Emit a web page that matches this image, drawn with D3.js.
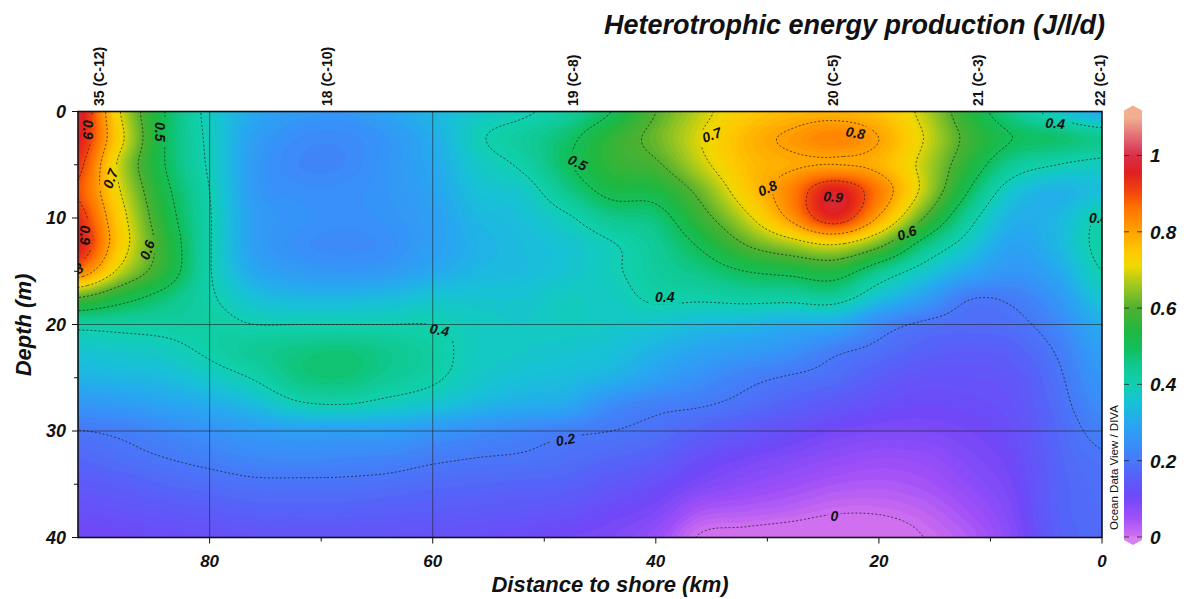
<!DOCTYPE html>
<html>
<head>
<meta charset="utf-8">
<script src="https://cdn.jsdelivr.net/npm/d3@7"></script>
<style>
  body { margin: 0; background: #fff; }
  svg text { font-family: "Liberation Sans", Arial, sans-serif; }
</style>
</head>
<body>
<svg id="chart" width="1199" height="599"></svg>
<script>
// Section grid: distance to shore (km) and depth (m)
const distances = [92, 88, 84, 80, 76, 72, 68, 64, 60, 56, 52, 48, 44, 40, 36, 32, 28, 24, 20, 16, 12, 8, 4, 0];
const depths = [0, 2.5, 5, 7.5, 10, 12.5, 15, 17.5, 20, 22.5, 25, 27.5, 30, 32.5, 35, 37.5, 40];

// Heterotrophic energy production (J/l/d), one gridded profile per distance
const profiles = [
  [0.99, 0.97, 0.93, 0.90, 0.94, 0.97, 0.86, 0.60, 0.42, 0.36, 0.32, 0.26, 0.198, 0.17, 0.145, 0.12, 0.10],
  [0.70, 0.72, 0.68, 0.70, 0.73, 0.74, 0.68, 0.53, 0.42, 0.37, 0.33, 0.27, 0.21, 0.185, 0.155, 0.13, 0.105],
  [0.50, 0.50, 0.50, 0.52, 0.54, 0.56, 0.55, 0.47, 0.42, 0.38, 0.34, 0.29, 0.23, 0.20, 0.17, 0.14, 0.115],
  [0.38, 0.385, 0.39, 0.40, 0.405, 0.405, 0.405, 0.41, 0.42, 0.41, 0.37, 0.31, 0.25, 0.215, 0.18, 0.15, 0.12],
  [0.30, 0.28, 0.27, 0.27, 0.28, 0.28, 0.30, 0.35, 0.40, 0.44, 0.405, 0.34, 0.27, 0.23, 0.19, 0.16, 0.13],
  [0.27, 0.24, 0.23, 0.245, 0.255, 0.245, 0.27, 0.33, 0.40, 0.46, 0.46, 0.39, 0.28, 0.235, 0.19, 0.16, 0.13],
  [0.26, 0.235, 0.23, 0.245, 0.245, 0.235, 0.26, 0.33, 0.40, 0.47, 0.47, 0.40, 0.28, 0.23, 0.19, 0.16, 0.13],
  [0.29, 0.26, 0.26, 0.26, 0.255, 0.245, 0.27, 0.34, 0.40, 0.45, 0.44, 0.38, 0.28, 0.225, 0.185, 0.155, 0.13],
  [0.33, 0.31, 0.30, 0.29, 0.28, 0.28, 0.30, 0.36, 0.40, 0.42, 0.41, 0.36, 0.26, 0.21, 0.175, 0.15, 0.125],
  [0.37, 0.39, 0.37, 0.35, 0.33, 0.32, 0.33, 0.36, 0.38, 0.38, 0.37, 0.33, 0.24, 0.20, 0.17, 0.145, 0.12],
  [0.39, 0.43, 0.41, 0.37, 0.35, 0.34, 0.34, 0.36, 0.37, 0.37, 0.35, 0.31, 0.225, 0.195, 0.165, 0.14, 0.11],
  [0.43, 0.48, 0.49, 0.45, 0.39, 0.36, 0.36, 0.38, 0.38, 0.36, 0.34, 0.30, 0.21, 0.185, 0.16, 0.13, 0.10],
  [0.50, 0.56, 0.56, 0.52, 0.45, 0.395, 0.39, 0.38, 0.37, 0.35, 0.32, 0.24, 0.20, 0.17, 0.14, 0.11, 0.09],
  [0.60, 0.62, 0.59, 0.53, 0.47, 0.44, 0.43, 0.41, 0.36, 0.32, 0.28, 0.215, 0.185, 0.155, 0.12, 0.09, 0.06],
  [0.68, 0.70, 0.68, 0.62, 0.57, 0.51, 0.46, 0.41, 0.34, 0.29, 0.245, 0.205, 0.16, 0.12, 0.09, 0.04, -0.005],
  [0.74, 0.77, 0.76, 0.74, 0.68, 0.60, 0.50, 0.42, 0.33, 0.27, 0.215, 0.185, 0.14, 0.10, 0.07, 0.03, -0.015],
  [0.77, 0.81, 0.79, 0.84, 0.81, 0.66, 0.52, 0.42, 0.31, 0.25, 0.195, 0.16, 0.12, 0.085, 0.055, 0.02, -0.025],
  [0.78, 0.84, 0.80, 0.96, 0.94, 0.70, 0.54, 0.43, 0.30, 0.21, 0.18, 0.14, 0.10, 0.07, 0.04, 0.005, -0.035],
  [0.76, 0.80, 0.78, 0.85, 0.79, 0.62, 0.45, 0.35, 0.23, 0.185, 0.15, 0.12, 0.09, 0.06, 0.035, 0.005, -0.03],
  [0.68, 0.70, 0.68, 0.68, 0.60, 0.47, 0.37, 0.28, 0.19, 0.16, 0.13, 0.11, 0.09, 0.065, 0.045, 0.02, 0.0],
  [0.55, 0.58, 0.55, 0.50, 0.43, 0.37, 0.30, 0.205, 0.18, 0.15, 0.13, 0.115, 0.10, 0.085, 0.07, 0.05, 0.03],
  [0.45, 0.50, 0.44, 0.36, 0.32, 0.29, 0.26, 0.21, 0.185, 0.16, 0.14, 0.13, 0.12, 0.11, 0.10, 0.09, 0.08],
  [0.37, 0.48, 0.40, 0.32, 0.33, 0.33, 0.30, 0.26, 0.23, 0.205, 0.19, 0.18, 0.17, 0.165, 0.16, 0.16, 0.155],
  [0.30, 0.45, 0.38, 0.35, 0.41, 0.42, 0.40, 0.36, 0.31, 0.28, 0.26, 0.24, 0.215, 0.195, 0.185, 0.18, 0.175]
];

// Stations along the section
const stationNames = ["35 (C-12)", "18 (C-10)", "19 (C-8)", "20 (C-5)", "21 (C-3)", "22 (C-1)"];
const stationKm = [89.9, 69.5, 47.4, 24.1, 11.1, 0.2];

// Isoline levels and their labels
const contourLevels = [0, 0.2, 0.4, 0.5, 0.6, 0.7, 0.8, 0.9];
const labelText = ["0.9", "0.7", "0.5", "0.9", "0.6", "0.8", "0.4", "0.5", "0.7", "0.8", "0.8", "0.9", "0.6", "0.4", "0.4", "0.4", "0.2", "0"];
const labelKm = [90.9, 88.9, 84.4, 91.2, 85.6, 92.2, 59.4, 47.0, 35.0, 22.1, 30.0, 24.1, 17.5, 39.2, 4.2, 0.3, 48.1, 24.0];
const labelDepth = [1.7, 6.3, 1.9, 11.6, 13.0, 15.0, 20.5, 4.8, 2.2, 2.0, 7.2, 8.0, 11.4, 17.4, 1.1, 10.0, 30.8, 38.0];
const labelAngle = [90, -70, 90, 90, -70, -30, 10, 25, -20, 10, -25, 5, -20, 0, 5, 0, -10, 0];

// Colour bar palette
const paletteValues = [0, 0.05, 0.105, 0.157, 0.2, 0.245, 0.3, 0.35, 0.4, 0.45, 0.49, 0.54, 0.6, 0.66, 0.71, 0.75, 0.805, 0.866, 0.91, 0.955, 1.0, 1.04, 1.1];
const paletteColors = ["#d070f0", "#a050f8", "#7048f8", "#5860f8", "#4878f8", "#3890f8", "#28a8f0", "#18c0d8", "#10d0b0", "#10c890", "#10c060", "#20b840", "#50b030", "#a0c820", "#f0d800", "#ffc800", "#ffa000", "#ff7000", "#f04010", "#e02020", "#d83048", "#e06070", "#f0b090"];
const colorTicks = [0, 0.2, 0.4, 0.6, 0.8, 1];

const xTicks = [80, 60, 40, 20, 0];
const xMinor = [70, 50, 30, 10];
const yTicks = [0, 10, 20, 30, 40];
const yMinor = [5, 15, 25, 35];
const gridKm = [80, 60];
const gridDepth = [20, 30];

// ---------------------------------------------------------------------
const svg = d3.select("#chart");
const plot = { left: 78, right: 1102, top: 111.5, bottom: 537.5 };
const x = d3.scaleLinear().domain([91.8, 0]).range([plot.left, plot.right]);
const y = d3.scaleLinear().domain([0, 40]).range([plot.top, plot.bottom]);
const color = d3.scaleLinear().domain(paletteValues).range(paletteColors).interpolate(d3.interpolateRgb).clamp(true);

// bicubic (Catmull-Rom) evaluation of the gridded section
const colIndex = d3.scaleLinear().domain([distances[0], distances[distances.length - 1]]).range([0, distances.length - 1]);
const rowIndex = d3.scaleLinear().domain([depths[0], depths[depths.length - 1]]).range([0, depths.length - 1]);
function cr(p0, p1, p2, p3, t) {
  return 0.5 * (2 * p1 + (-p0 + p2) * t + (2 * p0 - 5 * p1 + 4 * p2 - p3) * t * t + (-p0 + 3 * p1 - 3 * p2 + p3) * t * t * t);
}
function valueAt(km, dep) {
  const fx = colIndex(km), fy = rowIndex(dep);
  const nc = distances.length, nr = depths.length;
  const i = Math.max(0, Math.min(nc - 2, Math.floor(fx)));
  const j = Math.max(0, Math.min(nr - 2, Math.floor(fy)));
  const tx = fx - i, ty = fy - j;
  const ci = k => Math.max(0, Math.min(nc - 1, k));
  const rj = k => Math.max(0, Math.min(nr - 1, k));
  const rows = [];
  for (let m = -1; m <= 2; m++) {
    const r = rj(j + m);
    rows.push(cr(profiles[ci(i - 1)][r], profiles[ci(i)][r], profiles[ci(i + 1)][r], profiles[ci(i + 2)][r], tx));
  }
  return cr(rows[0], rows[1], rows[2], rows[3], ty);
}

const nx = 342, ny = 143;
const kmAt = d3.scaleLinear().domain([0.5, nx - 0.5]).range(x.domain());
const depAt = d3.scaleLinear().domain([0.5, ny - 0.5]).range(y.domain());
const field = new Float64Array(nx * ny);
for (let j = 0; j < ny; j++) {
  for (let i = 0; i < nx; i++) field[i + j * nx] = valueAt(kmAt(i + 0.5), depAt(j + 0.5));
}
const toScreen = d3.geoTransform({
  point(px, py) { this.stream.point(x(kmAt(px)), y(depAt(py))); }
});
const path = d3.geoPath(toScreen);

const defs = svg.append("defs");
defs.append("clipPath").attr("id", "plot-clip")
  .append("rect").attr("x", plot.left).attr("y", plot.top)
  .attr("width", plot.right - plot.left).attr("height", plot.bottom - plot.top);

const plotG = svg.append("g").attr("clip-path", "url(#plot-clip)");

// filled colour field
const bandStep = 0.01;
const bands = d3.range(-0.1, 1.15, bandStep);
const filled = d3.contours().size([nx, ny]).thresholds(bands)(field);
plotG.append("g").selectAll("path").data(filled).join("path")
  .attr("d", path)
  .attr("fill", d => color(d.value + bandStep / 2))
  .attr("stroke", d => color(d.value + bandStep / 2))
  .attr("stroke-width", 0.6);

// grid lines
plotG.append("g").selectAll("line.gx").data(gridKm).join("line")
  .attr("x1", d => x(d)).attr("x2", d => x(d)).attr("y1", plot.top).attr("y2", plot.bottom)
  .attr("stroke", "#222").attr("stroke-opacity", 0.75).attr("stroke-width", 0.8);
plotG.append("g").selectAll("line.gy").data(gridDepth).join("line")
  .attr("x1", plot.left).attr("x2", plot.right).attr("y1", d => y(d)).attr("y2", d => y(d))
  .attr("stroke", "#222").attr("stroke-opacity", 0.75).attr("stroke-width", 0.8);

// isoline labels and the gaps they leave in the lines
const labels = labelText.map((t, k) => ({ t, km: labelKm[k], dep: labelDepth[k], a: labelAngle[k] }));
const mask = defs.append("mask").attr("id", "label-gaps").attr("maskUnits", "userSpaceOnUse")
  .attr("x", 0).attr("y", 0).attr("width", 1199).attr("height", 599);
mask.append("rect").attr("width", 1199).attr("height", 599).attr("fill", "#fff");
mask.selectAll("rect.gap").data(labels).join("rect")
  .attr("x", d => -d.t.length * 4.3 - 2).attr("y", -8).attr("width", d => d.t.length * 8.6 + 4).attr("height", 16)
  .attr("transform", d => `translate(${x(d.km)},${y(d.dep)}) rotate(${d.a})`)
  .attr("fill", "#000");

const lines = d3.contours().size([nx, ny]).thresholds(contourLevels)(field);
plotG.append("g").attr("mask", "url(#label-gaps)").selectAll("path").data(lines).join("path")
  .attr("d", path)
  .attr("fill", "none")
  .attr("stroke", "#1a1a1a")
  .attr("stroke-width", 0.7)
  .attr("stroke-dasharray", "2,2");

plotG.append("g").selectAll("text").data(labels).join("text")
  .attr("transform", d => `translate(${x(d.km)},${y(d.dep)}) rotate(${d.a})`)
  .attr("text-anchor", "middle").attr("dy", "0.36em")
  .attr("font-size", 14).attr("font-weight", "bold").attr("font-style", "italic")
  .attr("fill", "#111")
  .text(d => d.t);

// frame
svg.append("rect").attr("x", plot.left).attr("y", plot.top)
  .attr("width", plot.right - plot.left).attr("height", plot.bottom - plot.top)
  .attr("fill", "none").attr("stroke", "#111").attr("stroke-width", 1.6);

// x axis
const xAxis = svg.append("g");
xAxis.selectAll("line.major").data(xTicks).join("line")
  .attr("x1", d => x(d)).attr("x2", d => x(d)).attr("y1", plot.bottom).attr("y2", plot.bottom + 6)
  .attr("stroke", "#111").attr("stroke-width", 1);
xAxis.selectAll("line.minor").data(xMinor).join("line")
  .attr("x1", d => x(d)).attr("x2", d => x(d)).attr("y1", plot.bottom).attr("y2", plot.bottom + 4)
  .attr("stroke", "#111").attr("stroke-width", 1);
xAxis.selectAll("text").data(xTicks).join("text")
  .attr("x", d => x(d)).attr("y", 567)
  .attr("text-anchor", "middle").attr("font-size", 17).attr("font-weight", "bold").attr("font-style", "italic")
  .attr("fill", "#111").text(d => d);
svg.append("text").attr("x", 610).attr("y", 592)
  .attr("text-anchor", "middle").attr("font-size", 22).attr("font-weight", "bold").attr("font-style", "italic")
  .attr("fill", "#111").text("Distance to shore (km)");

// y axis
const yAxis = svg.append("g");
yAxis.selectAll("line.major").data(yTicks).join("line")
  .attr("x1", plot.left - 6).attr("x2", plot.left).attr("y1", d => y(d)).attr("y2", d => y(d))
  .attr("stroke", "#111").attr("stroke-width", 1);
yAxis.selectAll("line.minor").data(yMinor).join("line")
  .attr("x1", plot.left - 4).attr("x2", plot.left).attr("y1", d => y(d)).attr("y2", d => y(d))
  .attr("stroke", "#111").attr("stroke-width", 1);
yAxis.selectAll("text").data(yTicks).join("text")
  .attr("x", 66).attr("y", d => y(d)).attr("dy", "0.36em")
  .attr("text-anchor", "end").attr("font-size", 18).attr("font-weight", "bold").attr("font-style", "italic")
  .attr("fill", "#111").text(d => d);
svg.append("text").attr("transform", "translate(31,325) rotate(-90)")
  .attr("text-anchor", "middle").attr("font-size", 22).attr("font-weight", "bold").attr("font-style", "italic")
  .attr("fill", "#111").text("Depth (m)");

// station names along the top
svg.append("g").selectAll("text").data(stationNames).join("text")
  .attr("transform", (d, k) => `translate(${x(stationKm[k])},106) rotate(-90)`)
  .attr("dy", "0.36em")
  .attr("text-anchor", "start").attr("font-size", 14).attr("font-weight", "bold")
  .attr("fill", "#111").text(d => d);

// title
svg.append("text").attr("x", 1105).attr("y", 34)
  .attr("text-anchor", "end").attr("font-size", 27).attr("font-weight", "bold").attr("font-style", "italic")
  .attr("fill", "#111").text("Heterotrophic energy production (J/l/d)");

// colour bar
const cb = d3.scaleLinear().domain([0, 1]).range([537, 155.5]);
const cbX0 = 1124, cbX1 = 1142, cbTop = 1.11;
const grad = defs.append("linearGradient").attr("id", "cbar")
  .attr("gradientUnits", "userSpaceOnUse")
  .attr("x1", 0).attr("x2", 0).attr("y1", cb(0)).attr("y2", cb(cbTop));
grad.selectAll("stop").data(d3.range(0, 101)).join("stop")
  .attr("offset", d => d / 100)
  .attr("stop-color", d => color(cbTop * d / 100));
svg.append("rect").attr("x", cbX0).attr("y", cb(cbTop)).attr("width", cbX1 - cbX0).attr("height", cb(0) - cb(cbTop))
  .attr("fill", "url(#cbar)");
const mid = (cbX0 + cbX1) / 2;
svg.append("path")
  .attr("d", `M${cbX0},${cb(cbTop) + 0.5}L${cbX0},${cb(cbTop) - 3}L${mid},${cb(cbTop) - 8}L${cbX1},${cb(cbTop) - 3}L${cbX1},${cb(cbTop) + 0.5}Z`)
  .attr("fill", color(1.1));
svg.append("path")
  .attr("d", `M${cbX0},${cb(0) - 0.5}L${cbX0},${cb(0) + 3}L${mid},${cb(0) + 8}L${cbX1},${cb(0) + 3}L${cbX1},${cb(0) - 0.5}Z`)
  .attr("fill", "#d680f2");
const cbAxis = svg.append("g");
cbAxis.selectAll("line.l").data(colorTicks).join("line")
  .attr("x1", cbX0).attr("x2", cbX0 + 5).attr("y1", d => cb(d)).attr("y2", d => cb(d))
  .attr("stroke", "#222").attr("stroke-width", 0.8);
cbAxis.selectAll("line.r").data(colorTicks).join("line")
  .attr("x1", cbX1 - 5).attr("x2", cbX1).attr("y1", d => cb(d)).attr("y2", d => cb(d))
  .attr("stroke", "#222").attr("stroke-width", 0.8);
cbAxis.selectAll("text").data(colorTicks).join("text")
  .attr("x", 1150).attr("y", d => cb(d)).attr("dy", "0.36em")
  .attr("font-size", 19).attr("font-weight", "bold").attr("font-style", "italic")
  .attr("fill", "#111").text(d => d);

svg.append("text").attr("transform", "translate(1114,530) rotate(-90)")
  .attr("dy", "0.36em").attr("font-size", 11.5).attr("fill", "#111")
  .text("Ocean Data View / DIVA");
</script>
</body>
</html>
